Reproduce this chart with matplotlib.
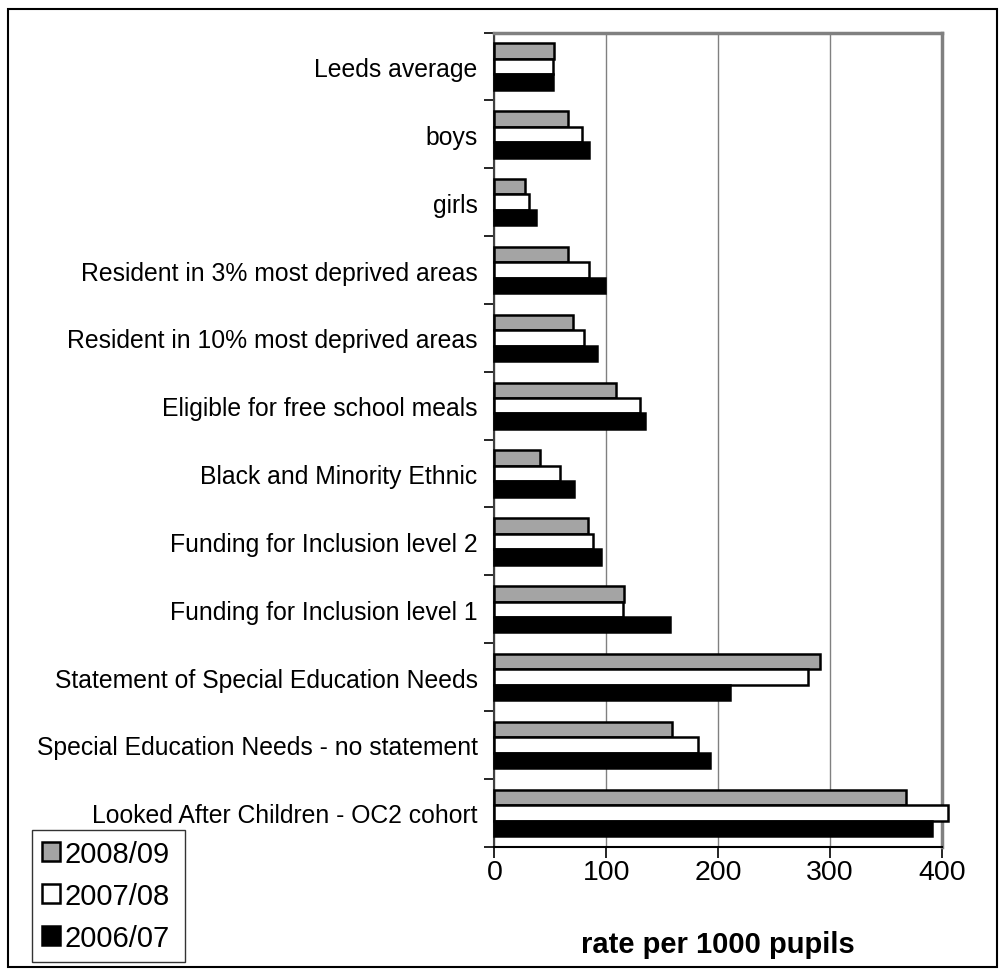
import numpy as np
import matplotlib.pyplot as plt
from matplotlib.patches import Rectangle

plt.rcParams['font.family'] = ['Liberation Sans', 'DejaVu Sans']

categories = [
    "Leeds average",
    "boys",
    "girls",
    "Resident in 3% most deprived areas",
    "Resident in 10% most deprived areas",
    "Eligible for free school meals",
    "Black and Minority Ethnic",
    "Funding for Inclusion level 2",
    "Funding for Inclusion level 1",
    "Statement of Special Education Needs",
    "Special Education Needs - no statement",
    "Looked After Children - OC2 cohort",
]
rate_0809 = [53, 66, 27, 66, 70, 109, 41, 84, 116, 291, 159, 368]
rate_0708 = [52, 78, 31, 85, 80, 130, 59, 88, 115, 280, 182, 405]
rate_0607 = [52, 85, 37, 99, 92, 135, 71, 95, 157, 211, 193, 391]
years = ["2008/09", "2007/08", "2006/07"]
xticks = [0, 100, 200, 300, 400]

fig = plt.figure(figsize=(10.07, 9.78), dpi=100)
ax = fig.add_axes([0.4909, 0.1332, 0.4445, 0.8325])

y = np.arange(len(categories))
h = 0.228
series = [rate_0809, rate_0708, rate_0607]
faces = ['#a4a4a4', 'white', 'black']
offsets = [-h, 0, h]
for vals, fc, off, lab in zip(series, faces, offsets, years):
    ax.barh(y + off, vals, height=h, color=fc, edgecolor='black',
            linewidth=1.8, label=lab, clip_on=False, zorder=3)

ax.set_xlim(0, 400)
ax.set_ylim(len(categories) - 0.5, -0.5)
ax.set_xticks(xticks)
ax.set_xticklabels([str(t) for t in xticks], fontsize=20.5)
ax.xaxis.grid(True, color='#808080', linewidth=1.0, zorder=0)

# category labels at centres, tick marks at boundaries
ax.set_yticks(y)
ax.set_yticklabels(categories, fontsize=17.8)
ax.set_yticks(np.arange(-0.5, len(categories)), minor=True)
ax.tick_params(axis='y', which='major', length=0, pad=12)
ax.tick_params(axis='y', which='minor', length=7, width=1.2, direction='out')
ax.tick_params(axis='x', length=8, width=1.2, direction='out', pad=1)

for s in ['top', 'right']:
    ax.spines[s].set_color('#808080')
    ax.spines[s].set_linewidth(2.5)
ax.spines['left'].set_color('#404040')
ax.spines['left'].set_linewidth(1.5)
ax.spines['bottom'].set_color('black')
ax.spines['bottom'].set_linewidth(1.5)

ax.set_xlabel("rate per 1000 pupils", fontsize=21, fontweight='bold', labelpad=32)

leg = fig.legend(loc='lower left', bbox_to_anchor=(0.0318, 0.0153, 0.152, 0.134),
                 mode='expand', borderaxespad=0, fontsize=21, frameon=True,
                 fancybox=False, edgecolor='black', handlelength=0.62,
                 handleheight=0.62, handletextpad=0.15, labelspacing=0.48,
                 borderpad=0.35)
leg.get_frame().set_linewidth(1.0)

fig.patches.append(Rectangle((8 / 1007, 10 / 978), 989 / 1007, 958 / 978,
                             transform=fig.transFigure, fill=False,
                             edgecolor='black', linewidth=1.5))

fig.savefig("out.png", dpi=100)
